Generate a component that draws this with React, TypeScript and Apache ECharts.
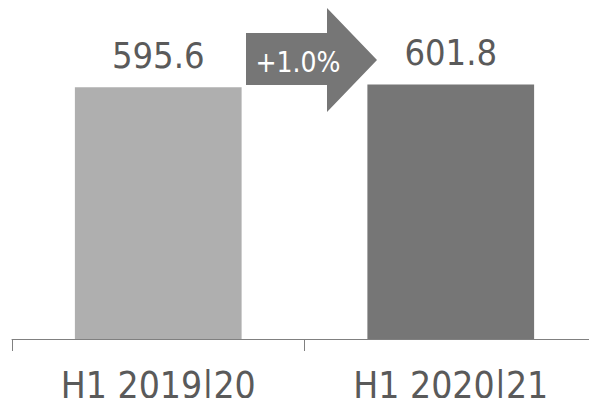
import React, { useEffect, useRef } from "react";
import * as echarts from "echarts";

const categories = ["H1 2019|20", "H1 2020|21"];
const values = [595.6, 601.8];
const barColors = ["#afafaf", "#767676"];
const changeLabel = "+1.0%";

const FONT = "'DejaVu Sans Condensed', 'DejaVu Sans', sans-serif";

export default function App() {
  const ref = useRef<HTMLDivElement>(null);
  useEffect(() => {
    if (!ref.current) return;
    const chart = echarts.init(ref.current, undefined, { renderer: "svg" });
    chart.setOption({
      animation: false,
      grid: { left: 12, right: -2, top: 43, bottom: 67 },
      xAxis: {
        type: "category",
        data: categories,
        axisLine: { show: true, lineStyle: { color: "#808080", width: 1 } },
        axisTick: { show: true, length: 12, lineStyle: { color: "#808080", width: 1 } },
        axisLabel: {
          color: "#5a5a5a",
          fontFamily: FONT,
          fontWeight: "normal",
          fontSize: 37,
          margin: 28,
        },
      },
      yAxis: {
        type: "value",
        min: 0,
        max: 700,
        show: false,
        splitLine: { show: false },
      },
      series: [
        {
          type: "bar",
          barWidth: "57%",
          data: values.map((v, i) => ({ value: v, itemStyle: { color: barColors[i] } })),
          label: {
            show: true,
            position: "top",
            distance: 14,
            color: "#5a5a5a",
            fontFamily: FONT,
            fontWeight: "normal",
            fontSize: 36,
            formatter: (p: any) => p.value.toFixed(1),
          },
        },
      ],
      graphic: [
        {
          type: "polygon",
          shape: {
            points: [
              [246, 33],
              [327, 33],
              [327, 8],
              [377, 60],
              [327, 112],
              [327, 85],
              [246, 85],
            ],
          },
          style: { fill: "#767676" },
        },
        {
          type: "text",
          x: 298,
          y: 62,
          style: {
            text: changeLabel,
            fill: "#ffffff",
            font: `normal 28px ${FONT}`,
            align: "center",
            verticalAlign: "middle",
          },
        },
      ],
    });
    return () => chart.dispose();
  }, []);
  return <div ref={ref} style={{ width: 597, height: 406, margin: -8 }} />;
}
